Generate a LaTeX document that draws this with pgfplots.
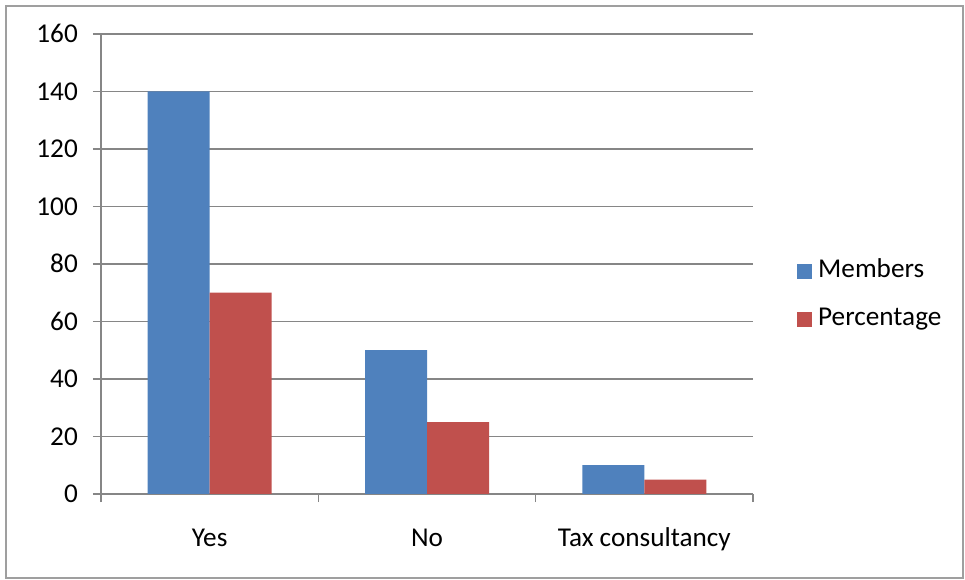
\documentclass[border=0pt]{standalone}
\usepackage{fontspec}
\setmainfont{Carlito}
\usepackage{pgfplots}
\pgfplotsset{compat=1.18}
\definecolor{cblue}{HTML}{4F81BD}
\definecolor{cred}{HTML}{C0504D}
\definecolor{cgrid}{HTML}{868686}
\begin{document}
\begin{tikzpicture}
\path (0pt,0pt) rectangle (965pt,580pt);
\draw[line width=1.5pt, draw=gray!75] (6pt,2pt) rectangle (963pt,574pt);
\begin{axis}[
  at={(101pt,86pt)}, anchor=south west,
  scale only axis, width=652pt, height=460pt,
  xmin=-0.5, xmax=2.5, ymin=0, ymax=160,
  ytick={0,20,...,160},
  xtick={-0.5,0.5,1.5,2.5}, xticklabels={},
  extra x ticks={0,1,2},
  extra x tick labels={Yes,No,Tax consultancy},
  extra x tick style={tick style={draw=none}, grid=none,
    xticklabel style={anchor=base, inner sep=0pt, yshift=-44pt}},
  axis x line*=bottom, axis y line*=left,
  axis line style={draw=cgrid, line width=1.5pt, -},
  tick style={draw=cgrid, line width=1.5pt},
  tick align=outside, major tick length=8pt,
  ymajorgrids, grid style={draw=cgrid, line width=1.5pt},
  yticklabel style={anchor=base east, inner sep=0pt, xshift=-15pt, yshift=-9pt},
  ticklabel style={font=\fontsize{27.2}{31}\selectfont},
  /pgf/number format/assume math mode=true,
  ybar, bar width=62pt,
  legend style={at={(1,0.5)}, anchor=west, xshift=44pt, yshift=-32pt,
    draw=none, fill=none, inner sep=0pt,
    font=\fontsize{27.2}{31}\selectfont, row sep=24pt, column sep=6pt,
    nodes={inner sep=0pt, text height=18pt, text depth=6pt}},
  legend cell align=left,
  legend image code/.code={\fill[#1] (0pt,-7.5pt) rectangle (15pt,7.5pt);},
]
\addplot[fill=cblue, draw=none, bar shift=-31pt] coordinates {(0,140) (1,50) (2,10)};
\addplot[fill=cred, draw=none, bar shift=31pt] coordinates {(0,70) (1,25) (2,5)};
\legend{Members,Percentage}
\end{axis}
\end{tikzpicture}
\end{document}
